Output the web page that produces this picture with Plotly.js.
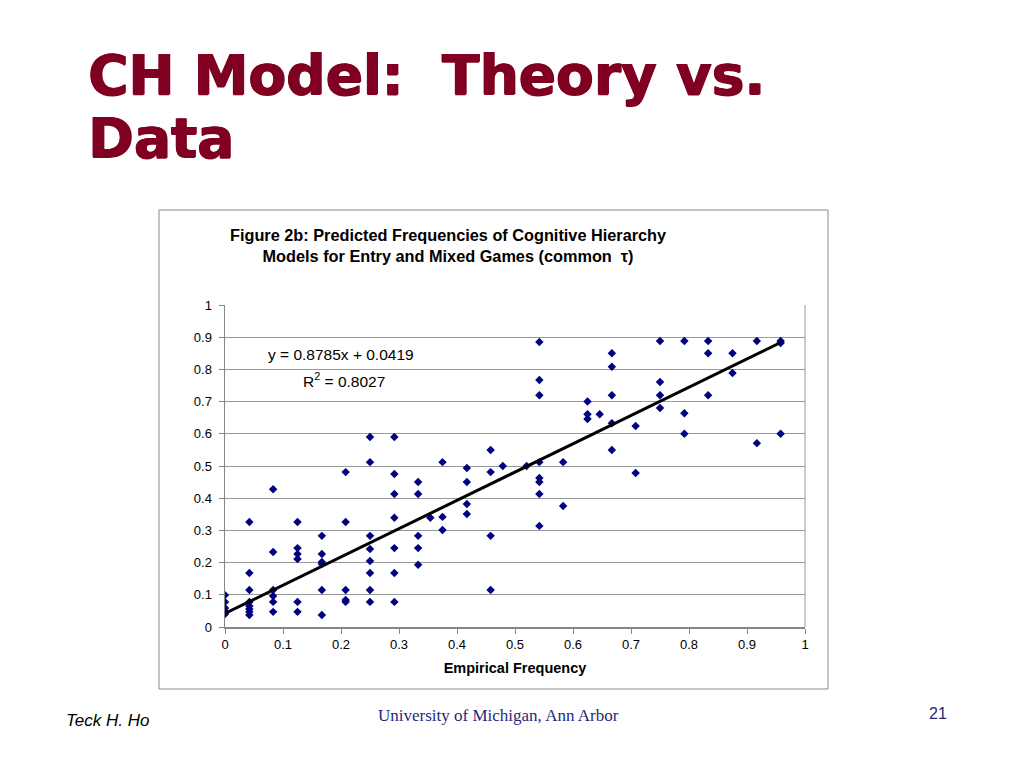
<!DOCTYPE html>
<html>
<head>
<meta charset="utf-8">
<script src="https://cdn.plot.ly/plotly-3.0.1.min.js"></script>
<style>
  html, body { margin: 0; padding: 0; background: #ffffff; }
  #chart { width: 1024px; height: 768px; }
</style>
</head>
<body>
<div id="chart"></div>
<script>
// ---- Data ----
const empiricalX = [
  0, 0, 0, 0, 0,
  0.042, 0.042, 0.042, 0.042, 0.042, 0.042, 0.042, 0.042,
  0.083, 0.083, 0.083, 0.083, 0.083, 0.083,
  0.125, 0.125, 0.125, 0.125, 0.125, 0.125,
  0.167, 0.167, 0.167, 0.167, 0.167, 0.167,
  0.208, 0.208, 0.208, 0.208, 0.208,
  0.25, 0.25, 0.25, 0.25, 0.25, 0.25, 0.25, 0.25,
  0.292, 0.292, 0.292, 0.292, 0.292, 0.292, 0.292,
  0.333, 0.333, 0.333, 0.333, 0.333,
  0.354,
  0.375, 0.375, 0.375,
  0.417, 0.417, 0.417, 0.417,
  0.458, 0.458, 0.458, 0.458,
  0.479,
  0.52,
  0.542, 0.542, 0.542, 0.542, 0.542, 0.542, 0.542, 0.542,
  0.583, 0.583,
  0.625, 0.625, 0.625,
  0.646,
  0.667, 0.667, 0.667, 0.667, 0.667,
  0.708, 0.708,
  0.75, 0.75, 0.75, 0.75,
  0.792, 0.792, 0.792,
  0.833, 0.833, 0.833,
  0.875, 0.875,
  0.917, 0.917,
  0.958, 0.958, 0.958
];
const predictedY = [
  0.099, 0.078, 0.059, 0.05, 0.04,
  0.326, 0.168, 0.115, 0.078, 0.065, 0.056, 0.047, 0.037,
  0.428, 0.233, 0.115, 0.096, 0.078, 0.047,
  0.326, 0.245, 0.227, 0.211, 0.078, 0.047,
  0.283, 0.227, 0.202, 0.196, 0.115, 0.037,
  0.481, 0.326, 0.115, 0.084, 0.078,
  0.59, 0.512, 0.283, 0.242, 0.205, 0.168, 0.115, 0.078,
  0.59, 0.475, 0.413, 0.339, 0.245, 0.168, 0.078,
  0.45, 0.413, 0.283, 0.245, 0.193,
  0.339,
  0.512, 0.342, 0.301,
  0.494, 0.45, 0.382, 0.351,
  0.55, 0.481, 0.283, 0.115,
  0.5,
  0.5,
  0.885, 0.767, 0.72, 0.512, 0.463, 0.45, 0.413, 0.314,
  0.512, 0.376,
  0.70, 0.661, 0.646,
  0.661,
  0.85, 0.808, 0.72, 0.633, 0.55,
  0.624, 0.478,
  0.888, 0.761, 0.72, 0.68,
  0.888, 0.664, 0.6,
  0.888, 0.85, 0.72,
  0.85, 0.789,
  0.888, 0.571,
  0.888, 0.882, 0.6
];
const trendSlope = 0.8785;
const trendIntercept = 0.0419;
const rSquared = 0.8027;
const tickValues = [0, 0.1, 0.2, 0.3, 0.4, 0.5, 0.6, 0.7, 0.8, 0.9, 1];
const tickLabels = ["0", "0.1", "0.2", "0.3", "0.4", "0.5", "0.6", "0.7", "0.8", "0.9", "1"];

// trendline from the regression coefficients, spanning the data range
const xMin = Math.min(...empiricalX);
const xMax = Math.max(...empiricalX);
const trendX = [xMin, xMax];
const trendY = trendX.map(v => trendSlope * v + trendIntercept);

// ---- pixel helpers for layout placement (plot area 225..805 x 305..627) ----
const PL = 225, PR = 805, PT = 305, PB = 627;
const px = v => (v - PL) / (PR - PL);
const py = v => (PB - v) / (PB - PT);

const traces = [
  {
    type: 'scatter', mode: 'markers',
    x: empiricalX, y: predictedY,
    marker: { symbol: 'diamond', size: 6.5, color: '#000080', line: { width: 0 } },
    hoverinfo: 'skip', showlegend: false
  },
  {
    type: 'scatter', mode: 'lines',
    x: trendX, y: trendY,
    line: { color: '#000000', width: 3 },
    hoverinfo: 'skip', showlegend: false
  }
];

const titleColor = '#7f0020';
const footColor = '#1f2a78';
const heavy = '1px 0 0 ' + titleColor + ', -0.5px 0 0 ' + titleColor + ', 0 0.7px 0 ' + titleColor;

const layout = {
  width: 1024, height: 768,
  margin: { l: PL, r: 1024 - PR, t: PT, b: 768 - PB, pad: 0 },
  paper_bgcolor: '#ffffff', plot_bgcolor: '#ffffff',
  font: { family: 'Liberation Sans, Arial, sans-serif', color: '#000000', size: 13 },
  showlegend: false,
  xaxis: {
    range: [0, 1], tickvals: tickValues, ticktext: tickLabels,
    showgrid: false, zeroline: false,
    showline: true, linecolor: '#868686', linewidth: 1.5,
    ticks: 'outside', ticklen: 5, tickcolor: '#868686', tickwidth: 1,
    tickfont: { size: 13, color: '#000000' },
    title: { text: '<b>Empirical Frequency</b>', font: { size: 14.5, color: '#000000' }, standoff: 12 },
    fixedrange: true
  },
  yaxis: {
    range: [0, 1], tickvals: tickValues, ticktext: tickLabels,
    showgrid: true, gridcolor: '#9a9a9a', gridwidth: 1,
    zeroline: false,
    showline: true, linecolor: '#868686', linewidth: 1.5,
    ticks: 'outside', ticklen: 5, tickcolor: '#868686', tickwidth: 1,
    ticklabelstandoff: 4,
    tickfont: { size: 13, color: '#000000' },
    fixedrange: true
  },
  shapes: [
    // outer chart frame
    { type: 'rect', xref: 'paper', yref: 'paper',
      x0: px(159), x1: px(828), y0: py(689), y1: py(210),
      line: { color: '#8a8a8a', width: 1 }, layer: 'below' },
    // plot area border (right side)
    { type: 'line', xref: 'paper', yref: 'paper',
      x0: 1, x1: 1, y0: 0, y1: 1,
      line: { color: '#9a9a9a', width: 1 }, layer: 'below' }
  ],
  annotations: [
    // slide title
    { xref: 'paper', yref: 'paper', x: px(86), y: py(75), xanchor: 'left', yanchor: 'middle',
      text: 'CH Model:\u00a0\u00a0Theory vs.', showarrow: false,
      font: { family: 'DejaVu Sans, sans-serif', size: 55, color: titleColor, weight: 700, shadow: heavy } },
    { xref: 'paper', yref: 'paper', x: px(86), y: py(138), xanchor: 'left', yanchor: 'middle',
      text: 'Data', showarrow: false,
      font: { family: 'DejaVu Sans, sans-serif', size: 55, color: titleColor, weight: 700, shadow: heavy } },
    // chart title
    { xref: 'paper', yref: 'paper', x: px(448), y: py(245), xanchor: 'center', yanchor: 'middle',
      text: '<b>Figure 2b: Predicted Frequencies of Cognitive Hierarchy</b><br><b>Models for Entry and Mixed Games (common \u00a0\u03c4)</b>',
      showarrow: false, align: 'center',
      font: { family: 'Liberation Sans, Arial, sans-serif', size: 16.3, color: '#000000' } },
    // regression equation
    { xref: 'paper', yref: 'paper', x: px(341), y: py(354), xanchor: 'center', yanchor: 'middle',
      text: 'y = ' + trendSlope.toFixed(4) + 'x + ' + trendIntercept.toFixed(4), showarrow: false,
      font: { family: 'Liberation Sans, Arial, sans-serif', size: 15.5, color: '#000000' } },
    { xref: 'paper', yref: 'paper', x: px(344), y: py(380), xanchor: 'center', yanchor: 'middle',
      text: 'R<sup>2</sup> = ' + rSquared.toFixed(4), showarrow: false,
      font: { family: 'Liberation Sans, Arial, sans-serif', size: 15.5, color: '#000000' } },
    // footer
    { xref: 'paper', yref: 'paper', x: px(64), y: py(720), xanchor: 'left', yanchor: 'middle',
      text: '<i>Teck H. Ho</i>', showarrow: false,
      font: { family: 'Liberation Sans, Arial, sans-serif', size: 17, color: '#000000' } },
    { xref: 'paper', yref: 'paper', x: px(498), y: py(715), xanchor: 'center', yanchor: 'middle',
      text: 'University of Michigan, Ann Arbor', showarrow: false,
      font: { family: 'Liberation Serif, Times New Roman, serif', size: 17, color: footColor } },
    { xref: 'paper', yref: 'paper', x: px(938), y: py(713), xanchor: 'center', yanchor: 'middle',
      text: '21', showarrow: false,
      font: { family: 'Liberation Sans, Arial, sans-serif', size: 16, color: footColor } }
  ]
};

Plotly.newPlot('chart', traces, layout, { staticPlot: true, displayModeBar: false });
</script>
</body>
</html>
